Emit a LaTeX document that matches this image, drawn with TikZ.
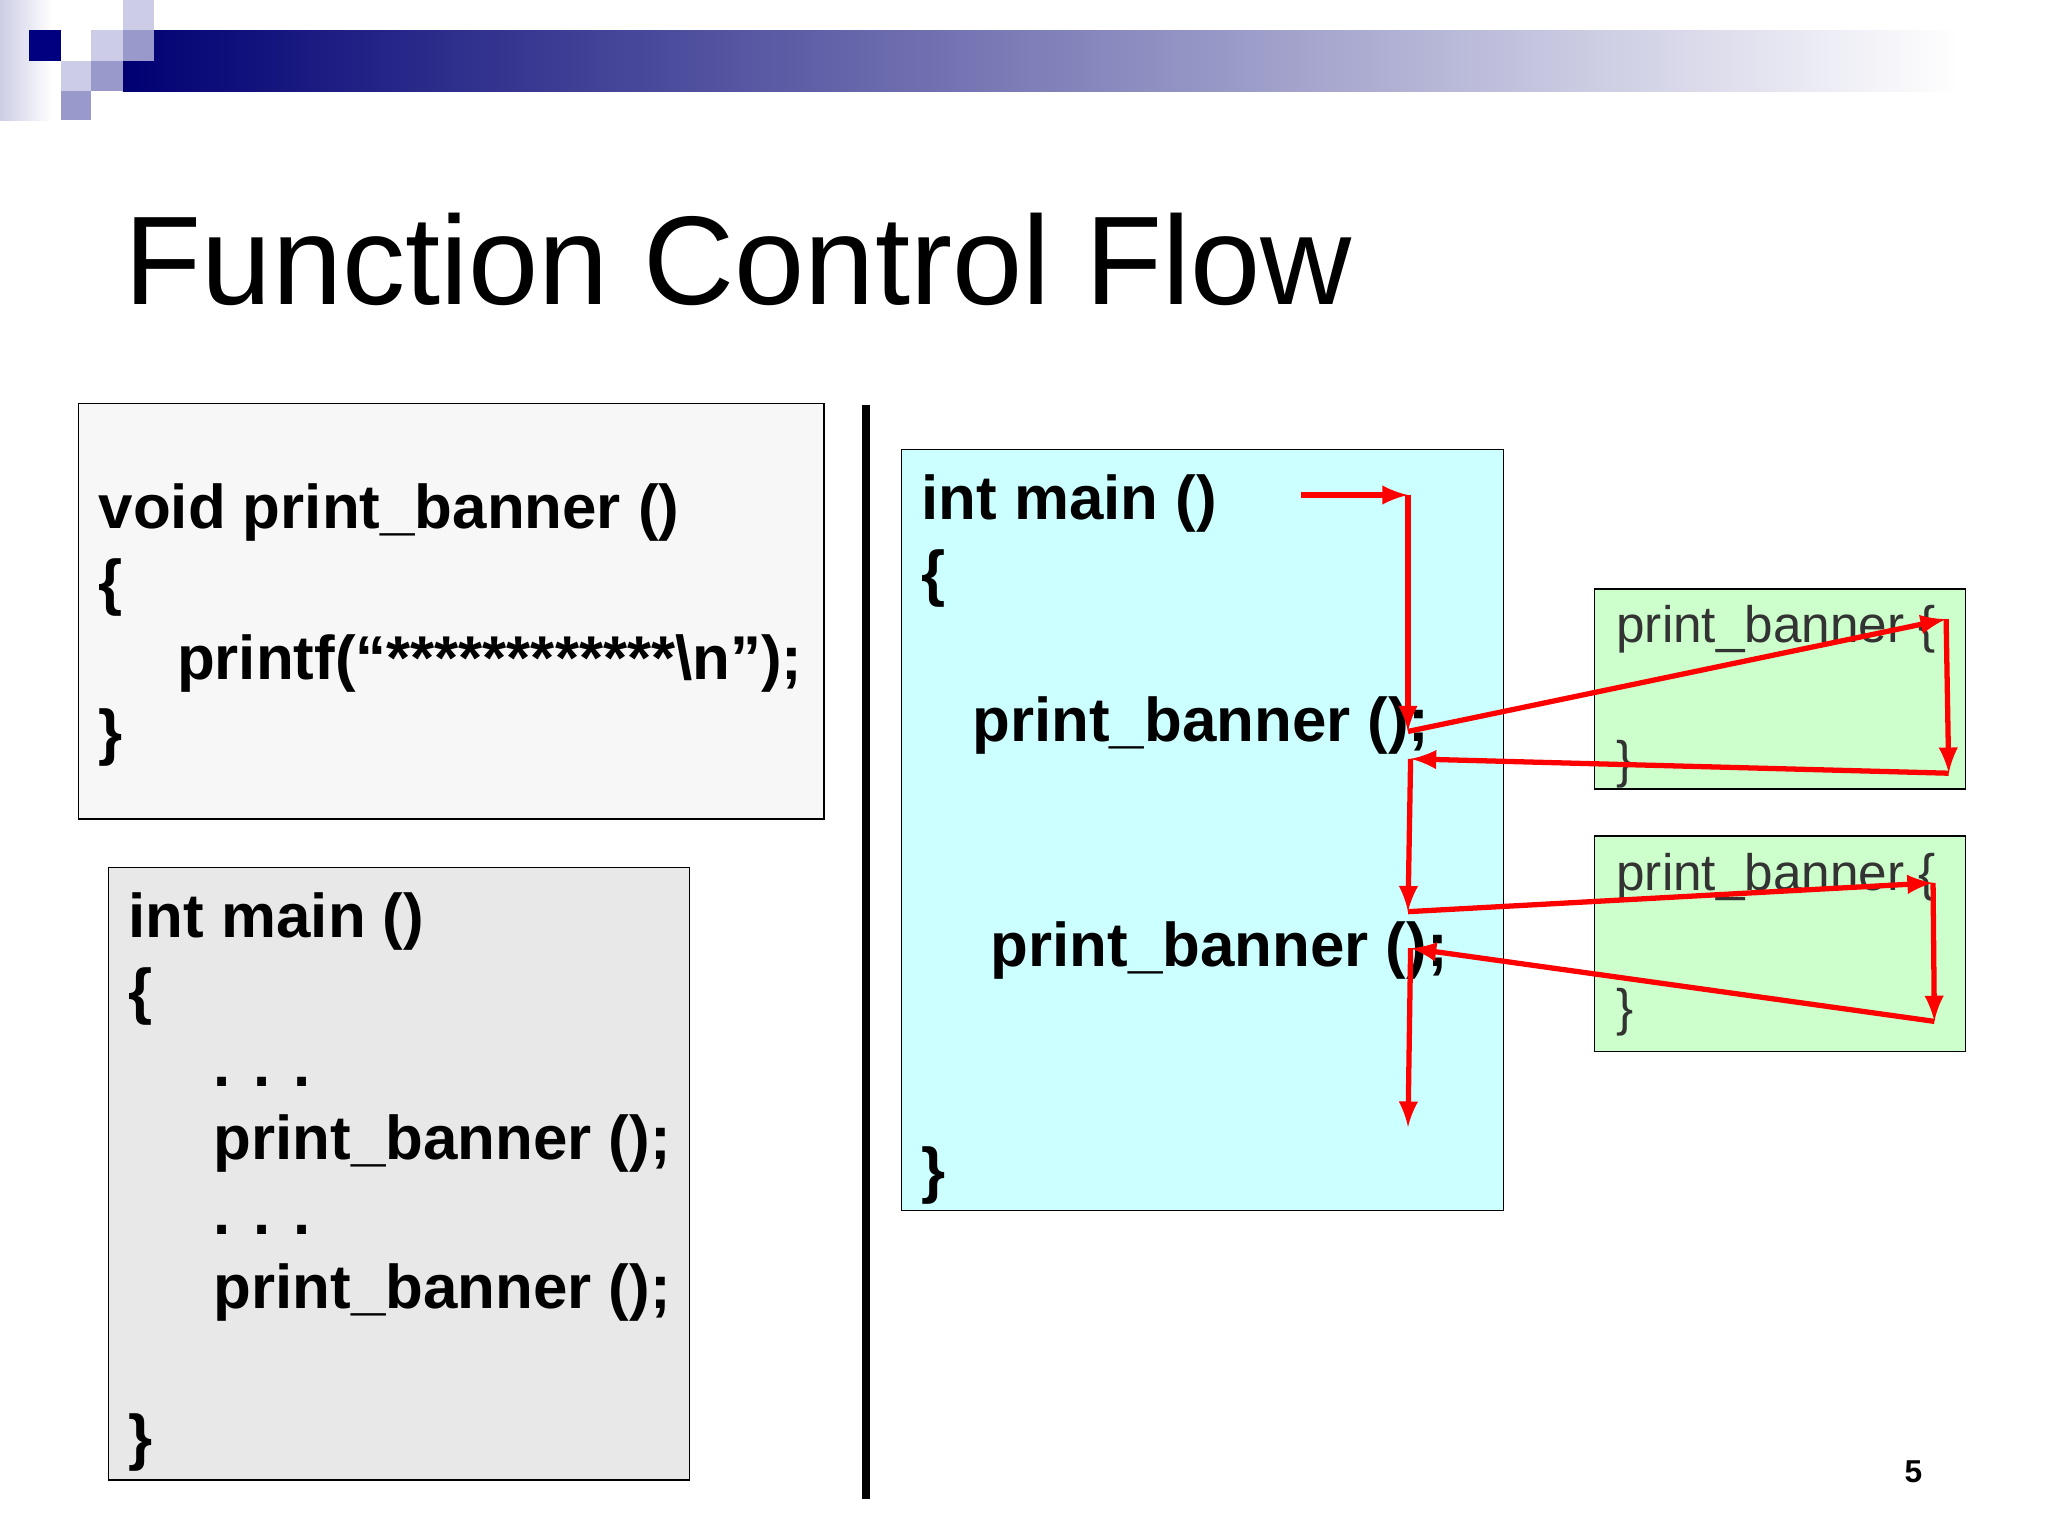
\documentclass[tikz,border=0pt]{standalone}
\usepackage{fontspec}
\setmainfont{Liberation Sans}
\usetikzlibrary{arrows,positioning}
\definecolor{navy}{RGB}{0,0,128}
\definecolor{lav}{RGB}{204,204,230}
\definecolor{lavmid}{RGB}{153,153,204}
\tikzset{
  code/.style  = {draw, thin, anchor=north west, inner sep=0pt},
  codetext/.style = {anchor=base west, font=\fontsize{17.6}{17.6}\selectfont\bfseries, inner sep=0pt},
  small/.style = {anchor=base west, font=\fontsize{14.6}{14.6}\selectfont, inner sep=0pt, text=black!80},
  flow/.style  = {red, line width=1.5pt, -latex}
}
\begin{document}
\begin{tikzpicture}[x=0.01306cm, y=-0.01306cm, >=latex]
\useasboundingbox (0,0) rectangle (1568,1176);
\fill[white] (0,0) rectangle (1568,1176);

% header decoration
\shade[left color=lav, right color=white] (0,0) rectangle (40,92);
\shade[left color=navy!90!black, middle color=navy!45, right color=white] (94,23) rectangle (1500,70);
\fill[navy] (22,23) rectangle (47,47);
\fill[lav] (70,23) rectangle (94,47);
\fill[lavmid] (94,23) rectangle (118,47);
\fill[lav] (94,0) rectangle (118,23);
\fill[lav] (47,47) rectangle (70,70);
\fill[lavmid] (70,47) rectangle (94,70);
\fill[lavmid] (47,70) rectangle (70,92);

% title
\node[anchor=base west, inner sep=0pt, font=\fontsize{35.9}{36}\selectfont] (title) at (95,233) {Function Control Flow};

% left code boxes
\draw[fill=black!3] (60,309) rectangle (631,627);
\node[codetext] (v1) at (75,405) {void print\_banner ()};
\node[codetext] (v2) at (75,462) {\{};
\node[codetext] (v3) at (135,520) {printf(“************\textbackslash n”);};
\node[codetext] (v4) at (75,577) {\}};

\draw[fill=black!9] (83,664) rectangle (528,1133);
\node[codetext] (m1) at (98,718) {int main ()};
\node[codetext] (m2) at (98,775) {\{};
\node[codetext] (m3) at (163,832) {. . .};
\node[codetext] (m4) at (163,888) {print\_banner ();};
\node[codetext] (m5) at (163,945) {. . .};
\node[codetext] (m6) at (163,1002) {print\_banner ();};
\node[codetext] (m7) at (98,1117) {\}};

\draw[line width=2.5pt] (663,310) -- (663,1148);

% flow boxes
\draw[fill={rgb,255:red,204;green,255;blue,255}] (690,344) rectangle (1151,927);
\node[codetext] (f1) at (705,398) {int main ()};
\node[codetext] (f2) at (705,455) {\{};
\node[codetext] (f3) at (744,568) {print\_banner ();};
\node[codetext] (f4) at (758,740) {print\_banner ();};
\node[codetext] (f5) at (705,912) {\}};

\draw[fill={rgb,255:red,204;green,255;blue,204}] (1221,451) rectangle (1505,604);
\node[small] (b1) at (1237,492) {print\_banner \{};
\node[small] (b2) at (1237,595) {\}};
\draw[fill={rgb,255:red,204;green,255;blue,204}] (1221,640) rectangle (1505,805);
\node[small] (c1) at (1237,682) {print\_banner \{};
\node[small] (c2) at (1237,785) {\}};

\node[anchor=base, font=\fontsize{9}{9}\selectfont\bfseries] (page) at (1465,1135) {5};

% control flow
\coordinate (p0) at (996,379);
\coordinate (p1) at (1078,379);
\coordinate (p2) at (1078,560);
\coordinate (p3) at (1490,474);
\coordinate (p4) at (1492,592);
\coordinate (p5) at (1080,581);
\coordinate (p6) at (1078,698);
\coordinate (p7) at (1480,676);
\coordinate (p8) at (1481,782);
\coordinate (p9) at (1080,726);
\coordinate (p10) at (1078,863);
\draw[flow] (p0) -- (p1);
\draw[flow] (p1) -- (p2);
\draw[flow] (p2) -- (p3);
\draw[flow] (p3) -- (p4);
\draw[flow] (p4) -- (p5);
\draw[flow] (p5) -- (p6);
\draw[flow] (p6) -- (p7);
\draw[flow] (p7) -- (p8);
\draw[flow] (p8) -- (p9);
\draw[flow] (p9) -- (p10);
\end{tikzpicture}
\end{document}
